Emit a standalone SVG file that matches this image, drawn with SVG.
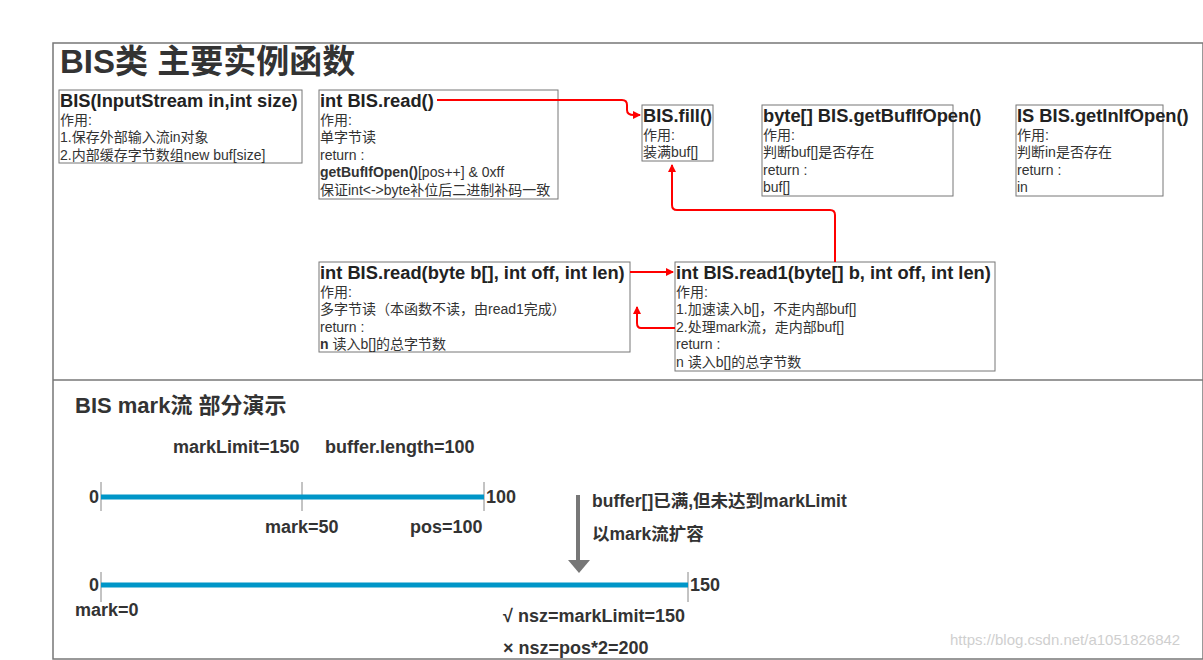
<svg xmlns="http://www.w3.org/2000/svg" width="1203" height="660" viewBox="0 0 1203 660">
<style>
text{font-family:"Liberation Sans","Noto Sans CJK SC",sans-serif;fill:#333}
.box{fill:#fff;stroke:#777;stroke-width:1}
.t{font-size:18.3px;font-weight:bold;fill:#222}
.b{font-size:14px;fill:#333}
.m{font-size:18px;font-weight:bold;fill:#333}
.red{fill:none;stroke:#f00;stroke-width:2}
.bar{stroke:#0096c8;stroke-width:5}
.tick{stroke:#888;stroke-width:1}
</style>
<defs><marker id="ah" markerWidth="8" markerHeight="8" refX="7" refY="4" orient="auto" markerUnits="userSpaceOnUse"><path d="M0,0L8,4L0,8z" fill="#f00"/></marker></defs>
<rect width="1203" height="660" fill="#fff"/>
<rect x="53" y="43" width="1150" height="616" fill="none" stroke="#777" stroke-width="1.5"/>
<line x1="53" y1="380" x2="1203" y2="380" stroke="#777" stroke-width="1.5"/>
<text x="60" y="73" font-size="33" font-weight="bold" fill="#333">BIS类  主要实例函数</text>
<g id="ctor"><rect class="box" x="59" y="90" width="243" height="73"/><text class="t" x="60" y="107">BIS(InputStream in,int size)</text><text class="b" x="60" y="125">作用:</text><text class="b" x="60" y="142">1.保存外部输入流in对象</text><text class="b" x="60" y="160">2.内部缓存字节数组new buf[size]</text></g>
<g id="read"><rect class="box" x="319" y="90" width="239" height="109"/><text class="t" x="320" y="107">int BIS.read()</text><text class="b" x="320" y="125">作用:</text><text class="b" x="320" y="142">单字节读</text><text class="b" x="320" y="160">return :</text><text class="b" x="320" y="177"><tspan font-weight="bold">getBufIfOpen()</tspan>[pos++] &amp; 0xff</text><text class="b" x="320" y="195">保证int&lt;-&gt;byte补位后二进制补码一致</text></g>
<g id="fill"><rect class="box" x="642" y="105" width="71" height="56"/><text class="t" x="643" y="122">BIS.fill()</text><text class="b" x="643" y="140">作用:</text><text class="b" x="643" y="157">装满buf[]</text></g>
<g id="getbuf"><rect class="box" x="762" y="105" width="191" height="91"/><text class="t" x="763" y="122">byte[] BIS.getBufIfOpen()</text><text class="b" x="763" y="140">作用:</text><text class="b" x="763" y="157">判断buf[]是否存在</text><text class="b" x="763" y="175">return :</text><text class="b" x="763" y="192">buf[]</text></g>
<g id="getin"><rect class="box" x="1016" y="105" width="147" height="91"/><text class="t" x="1017" y="122">IS BIS.getInIfOpen()</text><text class="b" x="1017" y="140">作用:</text><text class="b" x="1017" y="157">判断in是否存在</text><text class="b" x="1017" y="175">return :</text><text class="b" x="1017" y="192">in</text></g>
<g id="readarr"><rect class="box" x="319" y="262" width="311" height="90"/><text class="t" x="320" y="279">int BIS.read(byte b[], int off, int len)</text><text class="b" x="320" y="297">作用:</text><text class="b" x="320" y="314">多字节读（本函数不读，由read1完成）</text><text class="b" x="320" y="332">return :</text><text class="b" x="320" y="349"><tspan font-weight="bold">n</tspan> 读入b[]的总字节数</text></g>
<g id="read1"><rect class="box" x="675" y="262" width="320" height="109"/><text class="t" x="676" y="279">int BIS.read1(byte[] b, int off, int len)</text><text class="b" x="676" y="297">作用:</text><text class="b" x="676" y="314">1.加速读入b[]，不走内部buf[]</text><text class="b" x="676" y="332">2.处理mark流，走内部buf[]</text><text class="b" x="676" y="349">return :</text><text class="b" x="676" y="367">n 读入b[]的总字节数</text></g>
<g id="connectors">
<path class="red" d="M437,100H622Q627,100 627,105V110Q627,115 634,115H640" marker-end="url(#ah)"/>
<path class="red" d="M835,262V215Q835,210 830,210H677Q672,210 672,205V165" marker-end="url(#ah)"/>
<path class="red" d="M630,272H673" marker-end="url(#ah)"/>
<path class="red" d="M675,328H641Q637,328 637,323V307" marker-end="url(#ah)"/>
</g>
<text x="75" y="413" font-size="22" font-weight="bold" fill="#333">BIS mark流 部分演示</text>
<text class="m" x="173" y="453">markLimit=150</text><text class="m" x="325" y="453">buffer.length=100</text>
<line class="tick" x1="101" y1="482" x2="101" y2="511"/><line class="tick" x1="302" y1="482" x2="302" y2="511"/><line class="tick" x1="484" y1="482" x2="484" y2="511"/>
<line class="bar" x1="101" y1="497" x2="484" y2="497"/>
<text class="m" x="89" y="503">0</text><text class="m" x="486" y="503">100</text>
<text class="m" x="265" y="533">mark=50</text><text class="m" x="410" y="533">pos=100</text>
<line x1="578" y1="495" x2="578" y2="560" stroke="#777" stroke-width="4"/><path d="M568,560H590L579,573z" fill="#777"/>
<text x="592" y="507" font-size="17.5" font-weight="bold">buffer[]已满,但未达到markLimit</text><text x="592" y="540" font-size="17.5" font-weight="bold">以mark流扩容</text>
<line class="tick" x1="101" y1="572" x2="101" y2="602"/><line class="tick" x1="688" y1="572" x2="688" y2="602"/>
<line class="bar" x1="101" y1="585" x2="688" y2="585"/>
<text class="m" x="89" y="591">0</text><text class="m" x="690" y="591">150</text>
<text class="m" x="75" y="616">mark=0</text>
<text class="m" x="503" y="622">√ nsz=markLimit=150</text><text class="m" x="503" y="654">× nsz=pos*2=200</text>
<text x="950" y="645" font-size="15" style="fill:#cfcfcf">https://blog.csdn.net/a1051826842</text>
</svg>
